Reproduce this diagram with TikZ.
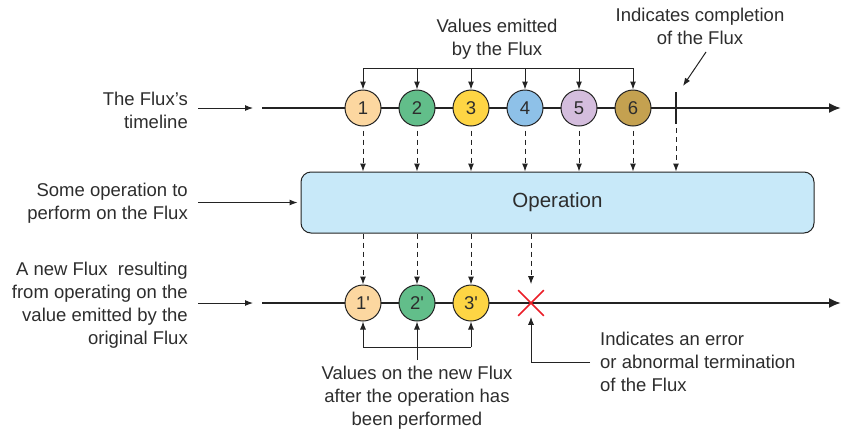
\documentclass[tikz,border=0pt]{standalone}
\usepackage{fontspec}
\setmainfont{Liberation Sans}
\usetikzlibrary{arrows.meta,shapes.misc}
\definecolor{ln}{RGB}{35,35,35}
\definecolor{tx}{RGB}{45,45,45}
\definecolor{opfill}{RGB}{200,233,249}
\definecolor{cA}{RGB}{252,215,160}
\definecolor{cB}{RGB}{98,190,138}
\definecolor{cC}{RGB}{254,213,68}
\definecolor{cD}{RGB}{142,193,232}
\definecolor{cE}{RGB}{212,189,221}
\definecolor{cF}{RGB}{196,161,80}
\definecolor{errred}{RGB}{235,30,40}
\begin{document}
\begin{tikzpicture}[x=1pt,y=-1pt,
  lbl/.style={font=\fontsize{18.5}{23}\selectfont, text=tx, inner sep=0pt},
  ball/.style={circle, draw=ln, line width=1pt, minimum size=36pt, inner sep=0pt,
               font=\fontsize{18.5}{22}\selectfont, text=tx},
  tip/.style={draw=ln, line width=1pt, -{Latex[length=8pt,width=6pt]}},
  dsh/.style={draw=ln, line width=1pt, dash pattern=on 5pt off 4pt,
              -{Latex[length=8pt,width=6pt]}},
  tline/.style={draw=ln, line width=2pt, -{Latex[length=12pt,width=10pt]}},
  plain/.style={draw=ln, line width=1pt}]
\useasboundingbox (0,0) rectangle (841,432);

% ---- labels on the left
\node[lbl, align=right, anchor=east] (lt) at (188,110) {The Flux’s\\timeline};
\node[lbl, align=right, anchor=east] (lo) at (188,203.5) {Some operation to\\perform on the Flux};
\node[lbl, align=right, anchor=east] (ln) at (188,305) {A new Flux\ \ resulting\\from operating on the\\value emitted by the\\original Flux};

% ---- top timeline
\coordinate (ts) at (262,108);
\coordinate (te) at (841,108);
\draw[tline] (ts) -- (te);
\draw[tip] ([xshift=10pt]lt.east |- ts) -- ([xshift=-9pt]ts);

\node[ball, fill=cA] (c1) at (363,108) {1};
\node[ball, fill=cB] (c2) at (417,108) {2};
\node[ball, fill=cC] (c3) at (471,108) {3};
\node[ball, fill=cD] (c4) at (525,108) {4};
\node[ball, fill=cE] (c5) at (579,108) {5};
\node[ball, fill=cF] (c6) at (633,108) {6};

\node[fill=ln, minimum width=2.6pt, minimum height=32pt, inner sep=0pt] (bar) at (676,108) {};

% ---- values emitted bracket
\node[lbl, align=center] (ve) at (497,39) {Values emitted\\by the Flux};
\coordinate (bl) at (363,68);
\coordinate (br) at (633,68);
\draw[plain] (bl) -- (br);
\foreach \c in {c1,c2,c3,c4,c5,c6} {
  \draw[tip] (\c.north |- bl) -- (\c.north);
}

% ---- completion label
\node[lbl, align=center] (cl) at (700,26) {Indicates completion\\of the Flux};
\coordinate (cla) at (706,52);
\coordinate (cle) at (683,86);
\draw[tip] (cla) -- (cle);

% ---- operation
\node[draw=ln, line width=1pt, fill=opfill, rounded corners=10pt,
      minimum width=513pt, minimum height=61pt, inner sep=0pt,
      font=\fontsize{20.5}{24}\selectfont, text=tx] (op) at (557.5,202.5) {Operation};
\draw[tip] ([xshift=10pt]lo.east |- op.west) -- ([xshift=-3pt]op.west);

\foreach \c in {c1,c2,c3,c4,c5,c6,bar} {
  \draw[dsh, shorten <=4pt] (\c.south) -- (\c.south |- op.north);
}

% ---- bottom timeline
\coordinate (bs) at (262,303);
\coordinate (be) at (841,303);
\draw[tline] (bs) -- (be);
\draw[tip] ([xshift=10pt]ln.east |- bs) -- ([xshift=-9pt]bs);

\node[ball, fill=cA] (d1) at (363,303) {1\textquotesingle};
\node[ball, fill=cB] (d2) at (417,303) {2\textquotesingle};
\node[ball, fill=cC] (d3) at (471,303) {3\textquotesingle};
\node[cross out, draw=errred, line width=1.6pt, minimum size=24pt, inner sep=0pt] (xx) at (531,303) {};

\foreach \c in {d1,d2,d3} {
  \draw[dsh] (\c.north |- op.south) -- (\c.north);
}
\draw[dsh, shorten >=6pt] (xx.north |- op.south) -- (xx.north);

% ---- values on the new flux
\node[lbl, align=center] (vn) at (417,398) {Values on the new Flux\\after the operation has\\been performed};
\coordinate (nb) at (417,347);
\draw[plain] (d1.south |- nb) -- (d3.south |- nb);
\draw[tip] (d1.south |- nb) -- (d1.south);
\draw[tip] (d3.south |- nb) -- (d3.south);
\draw[tip] ([yshift=6pt]vn.north) -- (d2.south);

% ---- error label
\node[lbl, align=left, anchor=west] (el) at (600,362) {Indicates an error\\or abnormal termination\\of the Flux};
\draw[tip] ([xshift=-10pt]el.west) -| ([yshift=-1pt]xx.south);
\end{tikzpicture}
\end{document}
